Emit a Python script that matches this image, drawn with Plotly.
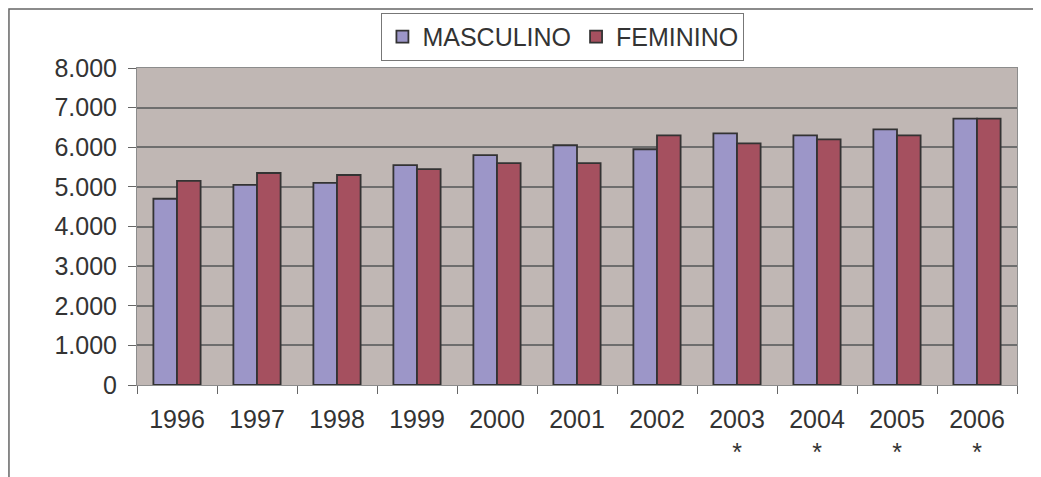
import plotly.graph_objects as go

# Values
years = ["1996", "1997", "1998", "1999", "2000", "2001", "2002",
         "2003<br>*", "2004<br>*", "2005<br>*", "2006<br>*"]
masculino = [4700, 5050, 5100, 5550, 5800, 6050, 5950, 6350, 6300, 6450, 6720]
feminino = [5150, 5350, 5300, 5450, 5600, 5600, 6300, 6100, 6200, 6300, 6720]

fig = go.Figure()

fig.add_trace(go.Bar(x=years, y=masculino, name="MASCULINO",
                     marker=dict(color="#9c96c8", line=dict(color="#333333", width=1.8))))
fig.add_trace(go.Bar(x=years, y=feminino, name="FEMININO",
                     marker=dict(color="#a5505f", line=dict(color="#333333", width=1.8))))

# outer chart frame (partly cut off in the original)
fig.add_shape(type="rect", xref="paper", yref="paper",
              x0=-0.1455, x1=1.2, y0=-0.5, y1=1.186,
              line=dict(color="#666666", width=1.5), layer="below")

# page body has an 8px margin, so the figure is trimmed by that much
fig.update_layout(
    width=1033,
    height=469,
    margin=dict(l=129, r=24, t=60, b=92, autoexpand=False),
    paper_bgcolor="white",
    plot_bgcolor="#c0b7b4",
    font=dict(family="Liberation Sans, Arial", size=25, color="#333333"),
    separators=",.",
    barmode="group",
    bargap=0.41,
    bargroupgap=0,
    showlegend=True,
    legend=dict(orientation="h", x=0.484, y=1.174, xanchor="center", yanchor="top",
                bordercolor="#777777", borderwidth=1, bgcolor="white",
                font=dict(size=25), itemwidth=30),
    xaxis=dict(tickson="boundaries", ticks="outside", ticklen=8, tickcolor="#666666",
               showline=True, linecolor="#8c8c8c", linewidth=1, mirror=True,
               showgrid=False, ticklabelstandoff=12),
    yaxis=dict(range=[0, 8000], dtick=1000, tickformat=",d",
               ticks="outside", ticklen=8, tickcolor="#666666",
               showline=True, linecolor="#8c8c8c", linewidth=1, mirror=True,
               gridcolor="#6e6e6e", gridwidth=1.5, zeroline=False,
               ticklabelstandoff=6),
)

fig.write_html("out.html")
